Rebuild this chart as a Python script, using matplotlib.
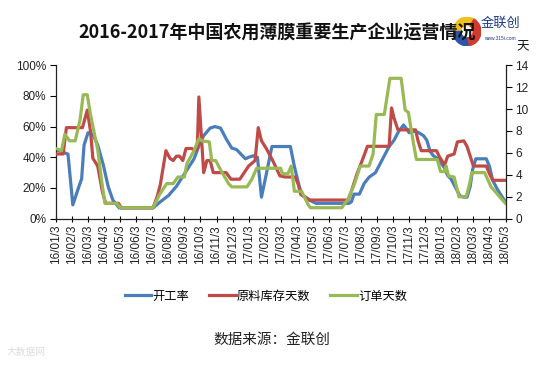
import matplotlib
matplotlib.use('Agg')
import matplotlib.pyplot as plt
from matplotlib.lines import Line2D
from matplotlib.patches import Wedge

plt.rcParams['font.family'] = ['Noto Sans CJK SC', 'DejaVu Sans']

tick_labels = ['16/01/3', '16/02/3', '16/03/3', '16/04/3', '16/05/3', '16/06/3',
               '16/07/3', '16/08/3', '16/09/3', '16/10/3', '16/11/3', '16/12/3',
               '17/01/3', '17/02/3', '17/03/3', '17/04/3', '17/05/3', '17/06/3',
               '17/07/3', '17/08/3', '17/09/3', '17/10/3', '17/11/3', '17/12/3',
               '18/01/3', '18/02/3', '18/03/3', '18/04/3', '18/05/3']

# 开工率 (%), x in months since 16/01/3
rate_m = [0, 0.3, 0.75, 1.05, 1.4, 1.6, 1.75, 2.0, 2.3, 2.6, 2.95, 3.25, 3.55, 3.95,
          6.05, 6.5, 7.0, 7.5, 8.05, 8.6, 9.0, 9.2, 9.6, 9.9, 10.25, 10.6, 10.95,
          11.25, 11.8, 12.0, 12.3, 12.55, 12.8, 13.1, 13.45, 14.6, 14.85, 15.15,
          15.36, 15.8, 16.2, 18.26, 18.4, 18.57, 18.9, 19.2, 19.5, 19.9, 20.3,
          20.75, 21.05, 21.35, 21.65, 21.8, 22.0, 22.3, 22.6, 22.9, 23.1, 23.3,
          23.5, 23.8, 24.0, 24.2, 24.4, 24.6, 24.9, 25.15, 25.4, 25.6, 25.8, 25.95,
          26.15, 26.8, 27.0, 27.2, 27.5, 27.8, 28.0]
rate_v = [45, 44, 42, 9, 20, 26, 48, 56, 55, 48, 35, 21, 12, 7,
          7, 11, 15, 21, 30, 39, 50, 54, 59, 60, 59, 52, 46,
          45, 39, 40, 41, 40, 14, 29, 47, 47, 34, 21,
          15, 12, 10, 10, 11, 16, 16, 23, 27, 30, 38,
          47, 51, 57, 61, 59, 56, 57, 56, 54, 51, 44,
          41, 39, 36, 33, 28, 26, 20, 15, 14, 14, 21, 32,
          39, 39, 34, 25, 19, 14, 11]

# 原料库存天数 (days)
stock_m = [0, 0.45, 0.65, 1.65, 1.95, 2.15, 2.3, 2.6, 2.9, 3.1, 3.9, 4.05, 6.05, 6.3,
           6.5, 6.85, 7.1, 7.3, 7.5, 7.7, 7.9, 8.1, 8.45, 8.7, 8.8, 8.9, 9.05, 9.2,
           9.4, 9.6, 9.8, 10.6, 10.9, 11.45, 12.0, 12.4, 12.6, 12.8, 13.1, 13.5,
           13.95, 14.3, 14.9, 15.1, 15.25, 15.5, 15.8, 18.2, 18.4, 18.75, 19.15,
           19.4, 20.75, 20.9, 21.05, 21.3, 22.4, 22.55, 22.75, 23.7, 23.9, 24.2,
           24.4, 24.8, 25.0, 25.4, 25.6, 26.0, 26.8, 27.0, 27.2, 28.0]
stock_v = [5.9, 5.9, 8.3, 8.3, 9.9, 8.0, 5.5, 4.8, 2.4, 1.4, 1.4, 1.0, 1.0, 2.0,
           3.1, 6.2, 5.5, 5.3, 5.7, 5.7, 5.3, 6.4, 6.4, 6.2, 6.4, 11.1, 7.7, 4.2,
           5.3, 5.3, 4.2, 4.2, 3.6, 3.6, 4.8, 5.3, 8.3, 7.1, 6.4, 5.3,
           3.9, 3.8, 3.8, 3.1, 2.2, 2.0, 1.7, 1.7, 2.5, 4.1, 5.6,
           6.6, 6.6, 10.1, 9.2, 8.1, 8.1, 7.1, 6.2, 6.2, 5.6, 4.9,
           5.7, 5.9, 7.0, 7.1, 6.6, 4.8, 4.8, 4.1, 3.5, 3.5]

# 订单天数 (days)
order_m = [0, 0.35, 0.55, 0.85, 1.2, 1.5, 1.7, 1.95, 2.15, 2.4, 2.6, 2.85, 3.05, 3.8,
           4.0, 6.05, 6.45, 6.9, 7.3, 7.6, 8.0, 8.15, 8.6, 8.9, 9.1, 9.55, 9.7,
           9.95, 10.35, 10.75, 10.95, 11.9, 12.2, 12.5, 14.0, 14.1, 14.45, 14.65,
           14.85, 15.3, 15.7, 15.85, 17.8, 18.2, 18.6, 18.95, 19.5, 19.75, 19.95,
           20.45, 20.8, 21.5, 21.75, 21.95, 22.25, 22.45, 23.75, 23.95, 24.2, 24.3,
           24.45, 24.8, 25.1, 25.55, 25.75, 25.9, 26.7, 27.1, 27.4, 27.75, 28.0]
order_v = [6.4, 6.2, 7.7, 7.1, 7.1, 9.0, 11.3, 11.3, 9.5, 7.7, 6.3, 3.4, 1.4, 1.4,
           1.0, 1.0, 2.2, 3.2, 3.2, 3.8, 3.8, 5.0, 6.2, 7.3, 7.1, 7.0, 5.3,
           5.3, 4.2, 3.2, 2.9, 2.9, 3.6, 4.6, 4.6, 4.1, 4.1, 4.8,
           2.5, 2.5, 1.3, 1.0, 1.0, 1.8, 3.2, 4.8, 4.8, 5.9, 9.5,
           9.5, 12.8, 12.8, 9.9, 9.7, 7.0, 5.4, 5.4, 4.3, 4.3, 4.8,
           3.9, 3.8, 2.0, 2.0, 3.1, 4.2, 4.2, 2.9, 2.4, 1.8, 1.4]

blue = '#4A7EBB'
red = '#BE4B48'
green = '#98B954'

fig = plt.figure(figsize=(5.54, 3.66), dpi=100)
ax = fig.add_axes([0.101, 0.4025, 0.8115, 0.4195])
ax2 = ax.twinx()

ax.plot(rate_m, rate_v, color=blue, lw=2.3, solid_joinstyle='round')
ax2.plot(stock_m, stock_v, color=red, lw=2.3, solid_joinstyle='round')
ax2.plot(order_m, order_v, color=green, lw=2.3, solid_joinstyle='round')

ax.set_xlim(0, 28)
ax.set_ylim(0, 100)
ax2.set_ylim(0, 14)
ax.set_yticks(range(0, 101, 20))
ax.set_yticklabels([f'{v}%' for v in range(0, 101, 20)])
ax2.set_yticks(range(0, 15, 2))
ax.set_xticks(range(len(tick_labels)))
ax.set_xticklabels(tick_labels, rotation=90)

tick_font = ['Liberation Sans', 'DejaVu Sans']
for lab in ax.get_xticklabels() + ax.get_yticklabels() + ax2.get_yticklabels():
    lab.set_family(tick_font)
    lab.set_fontsize(8.5)
    lab.set_color('#222222')

ax.tick_params(axis='x', direction='inout', length=5, width=0.8, pad=2)
ax.tick_params(axis='y', direction='out', length=4, width=0.8, pad=3)
ax2.tick_params(axis='y', direction='out', length=4, width=0.8, pad=3)

for a in (ax, ax2):
    a.spines['top'].set_visible(False)
    for s in ('left', 'right', 'bottom'):
        a.spines[s].set_linewidth(0.9)
        a.spines[s].set_color('#222222')
ax.spines['right'].set_visible(False)
ax2.spines['left'].set_visible(False)
ax2.spines['bottom'].set_visible(False)

fig.text(0.5, 0.91, '2016-2017年中国农用薄膜重要生产企业运营情况', ha='center', va='center',
         fontsize=13, fontweight='bold', color='#111111')

# logo
lax = fig.add_axes([0.818, 0.875, 0.05, 0.078])
lax.set_xlim(-1, 1); lax.set_ylim(-1, 1); lax.axis('off')
lax.add_patch(Wedge((0, 0), 1, 60, 180, width=0.55, color='#F2C01E'))
lax.add_patch(Wedge((0, 0), 1, 180, 280, width=0.55, color='#2B56A8'))
lax.add_patch(Wedge((0, 0), 1, 280, 60, width=0.55, color='#D23A2E'))
fig.text(0.903, 0.937, '金联创', ha='center', va='center', fontsize=9.5, color='#1F3C88')
fig.text(0.903, 0.896, 'www.315i.com', ha='center', va='center', fontsize=3.5, color='#1F3C88',
         family=tick_font)
fig.text(0.944, 0.873, '天', ha='center', va='center', fontsize=9, color='#111111')

handles = [Line2D([], [], color=blue, lw=2.3),
           Line2D([], [], color=red, lw=2.3),
           Line2D([], [], color=green, lw=2.3)]
fig.legend(handles, ['开工率', '原料库存天数', '订单天数'], loc='center', ncol=3,
           bbox_to_anchor=(0.48, 0.191), frameon=False, fontsize=8.8,
           handlelength=2.2, handletextpad=0.1, columnspacing=1.6)

fig.text(0.49, 0.071, '数据来源：金联创', ha='center', va='center', fontsize=10.5, color='#222222')
fig.text(0.012, 0.038, '大数据网', ha='left', va='center', fontsize=7, color='#DDDDDD')

fig.savefig('out.png', dpi=100)
